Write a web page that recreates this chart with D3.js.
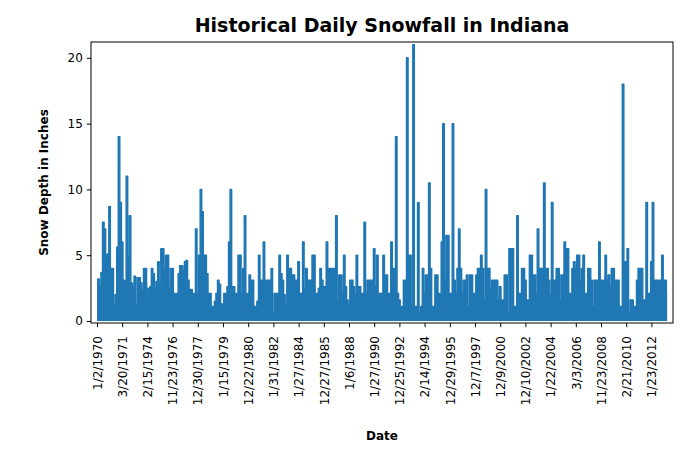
<!DOCTYPE html>
<html>
<head>
<meta charset="utf-8">
<script src="https://cdn.jsdelivr.net/npm/d3@7"></script>
<style>
  body { margin: 0; background: #fff; }
  svg { font-family: "DejaVu Sans", sans-serif; }
</style>
</head>
<body>
<svg id="chart"></svg>
<script>
// snowfall readings, one value per sample (row order of the source table)
const snow = [
  3.0,3.2,2.6,3.7,7.5,7.0,5.0,5.1,8.7,4.0,4.0,1.3,2.0,5.6,14.0,9.0,
  6.0,3.1,3.0,11.0,4.9,8.0,2.9,2.5,3.4,1.2,3.3,3.3,2.9,2.3,4.0,4.0,
  2.5,2.3,2.6,4.0,3.6,2.5,3.0,4.5,2.8,5.5,5.5,4.0,5.0,5.0,2.5,4.0,
  4.0,2.1,2.1,2.1,3.6,4.2,4.2,3.8,4.5,4.6,3.1,2.4,2.4,2.1,2.1,7.0,
  2.1,5.0,10.0,8.3,5.0,5.0,3.6,2.1,2.1,1.1,1.1,1.5,2.1,3.1,2.8,1.3,
  1.3,2.1,2.1,2.6,6.0,10.0,2.6,2.6,2.1,2.1,5.0,5.0,2.1,4.0,8.0,2.1,
  2.1,3.5,3.1,3.1,1.1,1.1,1.5,5.0,3.1,3.1,6.0,3.1,3.1,3.1,3.1,4.0,
  0.6,2.1,2.1,2.1,5.0,3.6,3.1,2.0,1.1,5.0,4.0,4.0,3.5,3.5,3.1,3.1,
  4.5,2.1,2.1,6.0,2.5,4.0,3.1,3.1,3.1,5.0,5.0,2.1,2.1,2.5,4.0,3.1,
  2.6,2.6,6.0,4.0,4.0,4.0,4.0,4.0,8.0,1.5,3.5,3.5,2.1,5.0,2.6,1.6,
  1.1,3.1,3.1,2.6,2.0,5.0,2.6,2.6,2.1,2.1,7.5,2.1,3.1,3.1,3.1,3.1,
  5.5,2.6,5.0,2.1,2.1,2.1,5.0,3.5,3.5,2.1,2.1,6.0,4.0,4.0,14.0,2.1,
  1.6,1.1,1.1,3.1,3.1,20.0,5.0,5.0,1.1,21.0,1.1,1.1,9.0,0.6,1.1,4.0,
  2.1,3.5,3.5,10.5,4.0,1.1,1.1,3.5,3.5,2.1,2.1,6.0,15.0,3.1,6.5,6.5,
  2.1,2.1,15.0,3.1,2.1,4.0,7.0,4.0,2.1,3.1,3.1,3.5,1.1,3.5,3.5,2.1,
  2.1,3.5,4.0,4.0,5.0,4.0,1.6,10.0,4.0,4.0,2.5,3.1,3.1,3.1,3.1,1.6,
  2.6,1.6,1.6,3.5,3.5,0.6,5.5,5.5,5.5,1.1,1.1,8.0,2.1,2.1,4.0,4.0,
  3.1,1.6,1.6,5.0,5.0,3.5,3.5,2.1,7.0,4.0,4.0,4.0,10.5,4.0,4.0,3.1,
  2.0,9.0,3.1,3.1,4.0,4.0,1.6,3.5,3.5,6.0,5.5,5.5,2.1,2.1,4.0,4.5,
  4.0,5.0,5.0,3.1,4.0,5.0,2.1,2.1,4.0,4.0,3.1,1.1,3.1,3.1,3.1,6.0,
  3.1,3.1,3.1,5.0,3.1,3.5,2.6,4.0,4.0,3.1,3.1,3.1,1.1,1.1,18.0,4.5,
  4.5,5.5,0.6,1.6,1.6,1.1,1.1,3.1,4.0,4.0,4.0,1.6,1.6,9.0,2.1,2.1,
  4.5,9.0,3.1,3.1,3.1,3.1,3.1,5.0,3.1,3.1,2.1
];

// date labels shown on the x axis, one every 16 samples
const dateTicks = [
  "1/2/1970","3/20/1971","2/15/1974","11/23/1976","12/30/1977","1/15/1979",
  "12/22/1980","1/31/1982","1/27/1984","12/27/1985","1/6/1988","1/27/1990",
  "12/25/1992","2/14/1994","12/29/1995","12/7/1997","12/9/2000","12/10/2002",
  "1/22/2004","3/3/2006","11/23/2008","2/21/2010","1/23/2012"
];
const tickStep = 16;
const yTicks = [0, 5, 10, 15, 20];

const W = 690, H = 460;
const M = { left: 91, right: 673, top: 42, bottom: 323 };
const BLUE = "#1f77b4";

const svg = d3.select("#chart").attr("width", W).attr("height", H);

const x = d3.scaleLinear()
  .domain([-3.8, 365.7])
  .range([M.left, M.right]);

const y = d3.scaleLinear()
  .domain([-0.15, 21.2])
  .range([M.bottom, M.top]);

const pts = snow.map((v, i) => [i, v]);

// fill under the trace (the dense daily line reads as solid blue)
const area = d3.area()
  .curve(d3.curveStep)
  .x(d => x(d[0]))
  .y0(y(0))
  .y1(d => y(d[1]));

const line = d3.line()
  .curve(d3.curveStep)
  .x(d => x(d[0]))
  .y(d => y(d[1]));

const g = svg.append("g");

g.append("path")
  .datum(pts)
  .attr("d", area)
  .attr("fill", BLUE);

g.append("path")
  .datum(pts)
  .attr("d", line)
  .attr("fill", "none")
  .attr("stroke", BLUE)
  .attr("stroke-width", 1.4)
  .attr("stroke-linejoin", "round");

// frame
svg.append("rect")
  .attr("x", M.left).attr("y", M.top)
  .attr("width", M.right - M.left).attr("height", M.bottom - M.top)
  .attr("fill", "none").attr("stroke", "#000").attr("stroke-width", 1);

// y axis
const yAxis = d3.axisLeft(y).tickValues(yTicks).tickSize(4.2).tickPadding(4);
svg.append("g")
  .attr("transform", `translate(${M.left},0)`)
  .call(yAxis)
  .call(s => s.select(".domain").remove())
  .call(s => s.selectAll("text").attr("font-size", 12).attr("fill", "#000")
    .attr("font-family", "DejaVu Sans"));

// x axis
const xAxis = d3.axisBottom(x)
  .tickValues(dateTicks.map((d, i) => i * tickStep))
  .tickFormat((d, i) => dateTicks[i])
  .tickSize(4.2);
svg.append("g")
  .attr("transform", `translate(0,${M.bottom})`)
  .call(xAxis)
  .call(s => s.select(".domain").remove())
  .call(s => s.selectAll("text")
    .attr("font-size", 12).attr("fill", "#000").attr("font-family", "DejaVu Sans")
    .attr("transform", "rotate(-90)")
    .attr("x", -13).attr("y", 0).attr("dy", "0.35em")
    .attr("text-anchor", "end"));

// title and axis labels
svg.append("text")
  .attr("x", (M.left + M.right) / 2).attr("y", 32)
  .attr("text-anchor", "middle")
  .attr("font-size", 19).attr("font-weight", "bold")
  .text("Historical Daily Snowfall in Indiana");

svg.append("text")
  .attr("transform", `translate(48,${(M.top + M.bottom) / 2}) rotate(-90)`)
  .attr("text-anchor", "middle")
  .attr("font-size", 12).attr("font-weight", "bold")
  .text("Snow Depth in Inches");

svg.append("text")
  .attr("x", (M.left + M.right) / 2).attr("y", 440)
  .attr("text-anchor", "middle")
  .attr("font-size", 12).attr("font-weight", "bold")
  .text("Date");
</script>
</body>
</html>
